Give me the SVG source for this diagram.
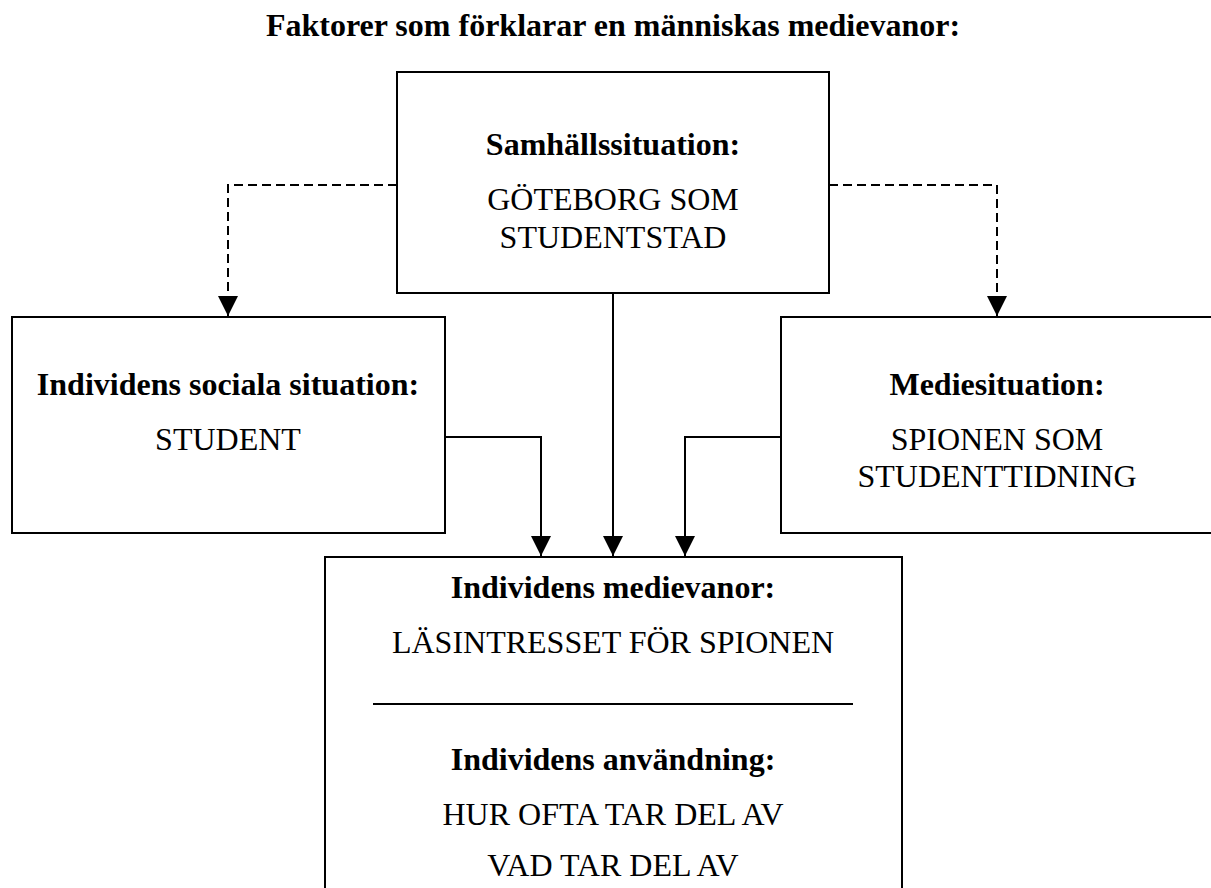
<svg xmlns="http://www.w3.org/2000/svg" width="1211" height="888" viewBox="0 0 1211 888">
<style>
text{font-family:"Liberation Serif","Times New Roman",serif;font-size:32px;fill:#000;text-anchor:middle}
.b{font-weight:bold}
.box{fill:#fff;stroke:#000;stroke-width:2}
.c{fill:none;stroke:#000;stroke-width:2}
.d{stroke-dasharray:9 5}
</style>
<defs>
<marker id="arr" markerUnits="userSpaceOnUse" markerWidth="20" markerHeight="20" viewBox="0 0 20 20" refX="20" refY="10" orient="auto">
<path d="M0,0 L20,10 L0,20 Z" fill="#000"/>
</marker>
</defs>
<rect width="1211" height="888" fill="#fff"/>
<text class="b" x="613" y="36">Faktorer som förklarar en människas medievanor:</text>
<g id="connectors">
<path class="c d" d="M397,185 H228 V316" marker-end="url(#arr)"/>
<path class="c d" d="M829,185 H997 V316" marker-end="url(#arr)"/>
<path class="c" d="M445,437 H541 V556" marker-end="url(#arr)"/>
<path class="c" d="M613,293 V556" marker-end="url(#arr)"/>
<path class="c" d="M781,437 H685 V556" marker-end="url(#arr)"/>
</g>
<g id="samhalle">
<rect class="box" x="397" y="72" width="432" height="221"/>
<text class="b" x="613" y="155">Samhällssituation:</text>
<text x="613" y="210">GÖTEBORG SOM</text>
<text x="613" y="248">STUDENTSTAD</text>
</g>
<g id="social">
<rect class="box" x="12" y="317" width="433" height="216"/>
<text class="b" x="228" y="395">Individens sociala situation:</text>
<text x="228" y="450">STUDENT</text>
</g>
<g id="medie">
<rect class="box" x="781" y="317" width="440" height="216"/>
<text class="b" x="997" y="395">Mediesituation:</text>
<text x="997" y="450">SPIONEN SOM</text>
<text x="997" y="487">STUDENTTIDNING</text>
</g>
<g id="vanor">
<rect class="box" x="325" y="557" width="577" height="340"/>
<text class="b" x="613" y="598">Individens medievanor:</text>
<text x="613" y="653">LÄSINTRESSET FÖR SPIONEN</text>
<line x1="373" y1="704" x2="853" y2="704" stroke="#000" stroke-width="2"/>
<text class="b" x="613" y="770">Individens användning:</text>
<text x="613" y="825">HUR OFTA TAR DEL AV</text>
<text x="613" y="876">VAD TAR DEL AV</text>
</g>
</svg>
